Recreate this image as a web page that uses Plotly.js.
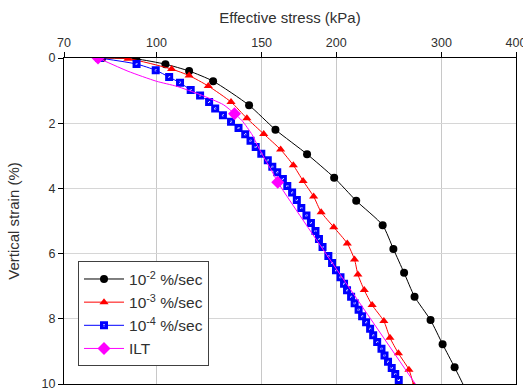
<!DOCTYPE html>
<html>
<head>
<meta charset="utf-8">
<script src="https://cdn.plot.ly/plotly-3.0.1.min.js"></script>
<style>html,body{margin:0;padding:0;background:#fff;}#chart{width:523px;height:390px;}</style>
</head>
<body>
<div id="chart"></div>
<script>
// Effective stress (kPa) vs vertical strain (%)
const blackX = [81.1, 92.5, 103.5, 113.4, 124.4, 142.9, 158.2, 178.7, 198.4, 216.0, 239.2, 249.3, 259.8, 270.5, 287.7, 301.4, 315.7, 330.4];
const blackY = [0, 0.03, 0.19, 0.40, 0.71, 1.45, 2.20, 2.95, 3.67, 4.38, 5.13, 5.86, 6.59, 7.32, 8.04, 8.78, 9.49, 10.22];

const redX = [80.5, 89.6, 106.0, 113.4, 122.1, 133.3, 141.7, 151.2, 161.4, 169.5, 176.0, 183.3, 188.7, 198.1, 208.7, 214.6, 217.4, 222.8, 229.7, 240.3, 246.0, 254.2, 264.7, 269.7];
const redY = [0, 0.02, 0.34, 0.54, 0.86, 1.35, 1.85, 2.33, 2.81, 3.29, 3.77, 4.25, 4.73, 5.19, 5.69, 6.18, 6.64, 7.12, 7.58, 8.07, 8.58, 9.06, 9.56, 10.06];

const blueX = [80.2, 92.6, 99.7, 105.0, 109.5, 114.1, 118.3, 122.5, 125.4, 129.2, 133.3, 137.2, 140.8, 143.7, 146.6, 149.8, 153.6, 156.3, 159.3, 162.8, 165.6, 168.7, 171.8, 174.8, 178.3, 181.4, 184.6, 187.1, 189.7, 194.0, 196.8, 199.8, 203.3, 206.1, 208.5, 211.8, 214.7, 218.0, 221.0, 224.4, 227.9, 230.6, 234.2, 238.1, 240.9, 244.2, 247.7, 251.1, 254.5];
const blueY = [0, 0.185, 0.375, 0.585, 0.763, 0.978, 1.154, 1.348, 1.548, 1.754, 1.954, 2.148, 2.338, 2.538, 2.732, 2.938, 3.138, 3.338, 3.508, 3.708, 3.923, 4.123, 4.354, 4.600, 4.831, 5.062, 5.308, 5.554, 5.800, 6.077, 6.292, 6.508, 6.723, 6.923, 7.123, 7.323, 7.523, 7.723, 7.923, 8.108, 8.308, 8.508, 8.714, 8.917, 9.123, 9.317, 9.508, 9.692, 9.877];

// ILT (incremental loading test): the curve and its marked load steps
const iltCurveX = [79.8, 89.6, 100.0, 108.1, 118.3, 129.4, 135.1, 139.1, 144.6, 148.0, 152.1, 156.3, 159.6, 320.0];
const iltCurveY = [0, 0.406, 0.714, 0.868, 1.123, 1.431, 1.708, 1.923, 2.354, 2.723, 3.123, 3.492, 3.809, 11.9];
const iltStepX = [79.8, 135.1, 159.6];
const iltStepY = [0, 1.708, 3.809];

const seriesNames = ['10<sup>-2</sup> %/sec', '10<sup>-3</sup> %/sec', '10<sup>-4</sup> %/sec', 'ILT'];
const xTickVals = [70, 100, 150, 200, 300, 400];
const xTickText = ['70', '100', '150', '200', '300', '400'];
const yTickVals = [0, 2, 4, 6, 8, 10];

const FONT = 'Liberation Sans, Arial, sans-serif';
const TXT = '#303030';

// marker-only points separated by gaps so no straight segments are drawn
const stepXs = [], stepYs = [];
iltStepX.forEach((v, i) => { if (i) { stepXs.push(null); stepYs.push(null); } stepXs.push(v); stepYs.push(iltStepY[i]); });

const traces = [
  {x: blackX, y: blackY, name: seriesNames[0], type: 'scatter', mode: 'lines+markers',
   line: {color: '#000000', width: 1, shape: 'spline', smoothing: 0.6},
   marker: {symbol: 'circle', size: 8, color: '#000000'}},
  {x: redX, y: redY, name: seriesNames[1], type: 'scatter', mode: 'lines+markers',
   line: {color: '#ff0000', width: 1, shape: 'spline', smoothing: 0.6},
   marker: {symbol: 'triangle-up', size: 8, color: '#ff0000'}},
  {x: blueX, y: blueY, name: seriesNames[2], type: 'scatter', mode: 'lines+markers',
   line: {color: '#0000ff', width: 1, shape: 'spline', smoothing: 0.6},
   marker: {symbol: 'square-open', size: 5, color: '#0000ff', line: {color: '#0000ff', width: 3}}},
  {x: iltCurveX, y: iltCurveY, name: seriesNames[3], type: 'scatter', mode: 'lines',
   legendgroup: 'ilt', showlegend: false,
   line: {color: '#ff00ff', width: 1, shape: 'spline', smoothing: 0.6}},
  {x: stepXs, y: stepYs, name: seriesNames[3], type: 'scatter', mode: 'lines+markers',
   legendgroup: 'ilt', connectgaps: false,
   line: {color: '#ff00ff', width: 1},
   marker: {symbol: 'diamond', size: 10, color: '#ff00ff'}}
];

const layout = {
  width: 523, height: 390,
  margin: {l: 64, r: 7, t: 58, b: 6},
  paper_bgcolor: '#ffffff', plot_bgcolor: '#ffffff',
  font: {family: FONT, size: 12, color: TXT},
  showlegend: true,
  xaxis: {
    type: 'log', side: 'top',
    range: [Math.log10(70), Math.log10(400)], autorange: false,
    tickmode: 'array', tickvals: xTickVals, ticktext: xTickText,
    ticks: 'outside', ticklen: 5, tickcolor: '#000000',
    ticklabeloverflow: 'allow',
    showline: true, linecolor: '#000000', linewidth: 1, mirror: true,
    showgrid: true, gridcolor: '#c8c8c8', gridwidth: 1,
    zeroline: false,
    tickfont: {family: FONT, size: 12.5, color: TXT},
    title: {text: 'Effective stress (kPa)', font: {family: FONT, size: 15, color: TXT}, standoff: 8}
  },
  yaxis: {
    range: [10, 0], autorange: false,
    tickmode: 'array', tickvals: yTickVals,
    ticks: 'outside', ticklen: 5, tickcolor: '#000000',
    ticklabeloverflow: 'allow',
    showline: true, linecolor: '#000000', linewidth: 1, mirror: true,
    showgrid: true, gridcolor: '#d6d6d6', gridwidth: 1,
    zeroline: false,
    tickfont: {family: FONT, size: 12.5, color: TXT},
    title: {text: 'Vertical strain (%)', font: {family: FONT, size: 15, color: TXT}, standoff: 18}
  },
  legend: {
    x: 0.031, y: 0.376, xanchor: 'left', yanchor: 'top',
    bgcolor: '#ffffff', bordercolor: '#404040', borderwidth: 1,
    font: {family: FONT, size: 15.5, color: TXT},
    itemwidth: 40, tracegroupgap: 0
  }
};

Plotly.newPlot('chart', traces, layout, {displayModeBar: false, staticPlot: true});
</script>
</body>
</html>
